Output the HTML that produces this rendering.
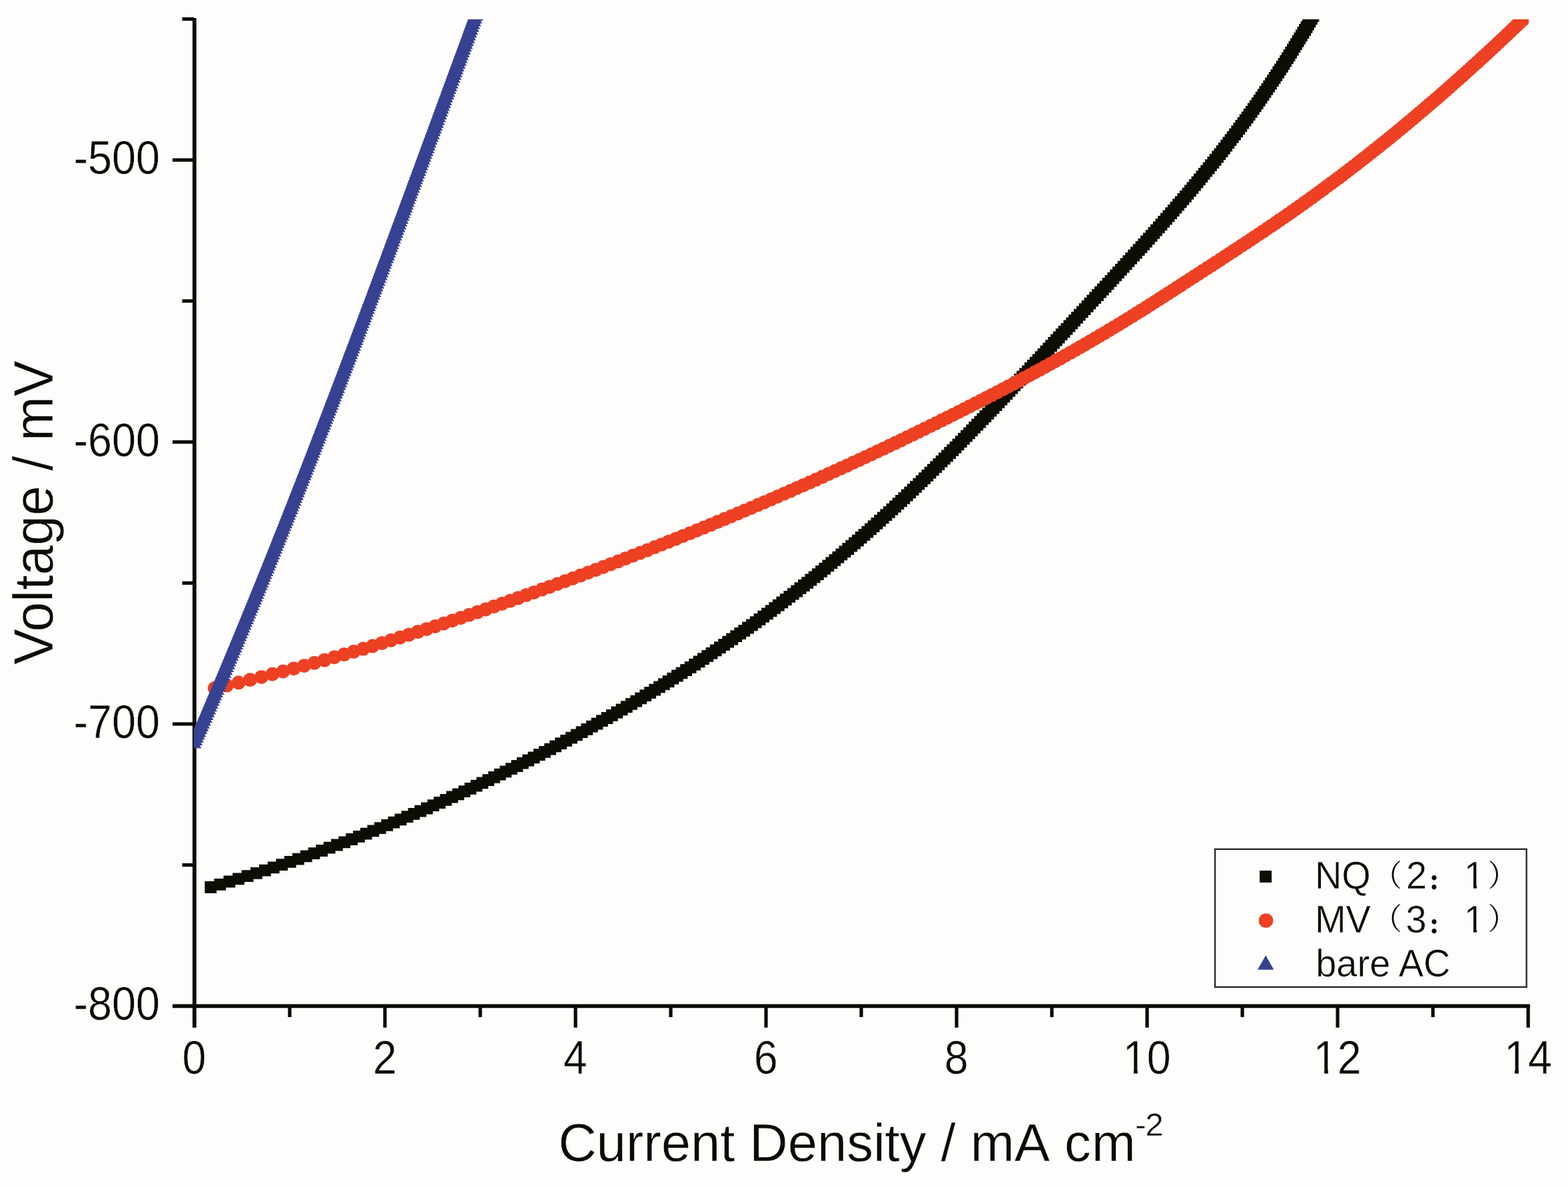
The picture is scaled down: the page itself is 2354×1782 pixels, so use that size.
<!DOCTYPE html>
<html><head><meta charset="utf-8"><title>Polarization curves</title>
<style>
html,body{margin:0;padding:0;background:#fefdfb;}
body{width:2354px;height:1782px;overflow:hidden;}
svg{display:block;filter:blur(0.45px);}
text{font-family:"Liberation Sans","Noto Sans CJK SC",sans-serif;fill:#0b0b05;stroke:#fefdfb;stroke-width:0.5px;}
</style></head><body>
<svg width="2354" height="1782" viewBox="0 0 2354 1782">
<rect width="2354" height="1782" fill="#fefdfb"/>
<defs><clipPath id="cp"><rect x="290.7" y="28.9" width="2004.3" height="1480"/></clipPath></defs>

<g stroke="#0b0b05" stroke-width="5.8" fill="none">
<path d="M291.9 27V1542.7"/>
<path d="M259 1510.3H2297"/>
</g>
<g stroke="#0b0b05" stroke-width="5.2" fill="none">
<path d="M259 240.2H291"/>
<path d="M259 663.6H291"/>
<path d="M259 1086.9H291"/>
<path d="M273.5 28.6H291"/>
<path d="M273.5 451.9H291"/>
<path d="M273.5 875.3H291"/>
<path d="M273.5 1298.6H291"/>
<path d="M434.9 1509V1527"/>
<path d="M577.9 1509V1542.7"/>
<path d="M721 1509V1527"/>
<path d="M864 1509V1542.7"/>
<path d="M1007 1509V1527"/>
<path d="M1150 1509V1542.7"/>
<path d="M1293 1509V1527"/>
<path d="M1436.1 1509V1542.7"/>
<path d="M1579.1 1509V1527"/>
<path d="M1722.1 1509V1542.7"/>
<path d="M1865.1 1509V1527"/>
<path d="M2008.1 1509V1542.7"/>
<path d="M2151.2 1509V1527"/>
<path d="M2294.2 1509V1542.7"/>
</g>
<g clip-path="url(#cp)">
<path d="M307.4 1323.1h17.8v17.8h-17.8zM321.4 1318.9h17.8v17.8h-17.8zM335.5 1314.6h17.8v17.8h-17.8zM349.2 1310.4h17.8v17.8h-17.8zM362.7 1306.2h17.8v17.8h-17.8zM376 1301.9h17.8v17.8h-17.8zM389 1297.7h17.8v17.8h-17.8zM401.8 1293.5h17.8v17.8h-17.8zM414.3 1289.2h17.8v17.8h-17.8zM426.7 1285h17.8v17.8h-17.8zM438.9 1280.8h17.8v17.8h-17.8zM450.8 1276.5h17.8v17.8h-17.8zM462.6 1272.3h17.8v17.8h-17.8zM474.2 1268.1h17.8v17.8h-17.8zM485.7 1263.8h17.8v17.8h-17.8zM497 1259.6h17.8v17.8h-17.8zM508.2 1255.4h17.8v17.8h-17.8zM519.2 1251.1h17.8v17.8h-17.8zM530 1246.9h17.8v17.8h-17.8zM540.8 1242.7h17.8v17.8h-17.8zM551.4 1238.4h17.8v17.8h-17.8zM561.8 1234.2h17.8v17.8h-17.8zM572.2 1230h17.8v17.8h-17.8zM582.4 1225.7h17.8v17.8h-17.8zM592.6 1221.5h17.8v17.8h-17.8zM602.6 1217.3h17.8v17.8h-17.8zM612.5 1213h17.8v17.8h-17.8zM622.3 1208.8h17.8v17.8h-17.8zM632 1204.6h17.8v17.8h-17.8zM641.6 1200.3h17.8v17.8h-17.8zM651.1 1196.1h17.8v17.8h-17.8zM660.5 1191.9h17.8v17.8h-17.8zM669.9 1187.6h17.8v17.8h-17.8zM679.1 1183.4h17.8v17.8h-17.8zM688.3 1179.2h17.8v17.8h-17.8zM697.4 1174.9h17.8v17.8h-17.8zM706.4 1170.7h17.8v17.8h-17.8zM715.3 1166.5h17.8v17.8h-17.8zM724.2 1162.2h17.8v17.8h-17.8zM733 1158h17.8v17.8h-17.8zM741.7 1153.8h17.8v17.8h-17.8zM750.3 1149.5h17.8v17.8h-17.8zM758.9 1145.3h17.8v17.8h-17.8zM767.4 1141.1h17.8v17.8h-17.8zM775.8 1136.8h17.8v17.8h-17.8zM784.2 1132.6h17.8v17.8h-17.8zM792.5 1128.4h17.8v17.8h-17.8zM800.8 1124.1h17.8v17.8h-17.8zM808.9 1119.9h17.8v17.8h-17.8zM817.1 1115.7h17.8v17.8h-17.8zM825.1 1111.4h17.8v17.8h-17.8zM833.1 1107.2h17.8v17.8h-17.8zM841.1 1103h17.8v17.8h-17.8zM849 1098.7h17.8v17.8h-17.8zM856.8 1094.5h17.8v17.8h-17.8zM864.6 1090.3h17.8v17.8h-17.8zM872.3 1086h17.8v17.8h-17.8zM879.9 1081.8h17.8v17.8h-17.8zM887.5 1077.6h17.8v17.8h-17.8zM895 1073.3h17.8v17.8h-17.8zM902.5 1069.1h17.8v17.8h-17.8zM909.9 1064.9h17.8v17.8h-17.8zM917.3 1060.6h17.8v17.8h-17.8zM924.6 1056.4h17.8v17.8h-17.8zM931.8 1052.2h17.8v17.8h-17.8zM939 1047.9h17.8v17.8h-17.8zM946.2 1043.7h17.8v17.8h-17.8zM953.2 1039.5h17.8v17.8h-17.8zM960.3 1035.2h17.8v17.8h-17.8zM967.2 1031h17.8v17.8h-17.8zM974.2 1026.8h17.8v17.8h-17.8zM981 1022.5h17.8v17.8h-17.8zM987.9 1018.3h17.8v17.8h-17.8zM994.6 1014.1h17.8v17.8h-17.8zM1001.3 1009.8h17.8v17.8h-17.8zM1008 1005.6h17.8v17.8h-17.8zM1014.6 1001.4h17.8v17.8h-17.8zM1021.2 997.1h17.8v17.8h-17.8zM1027.7 992.9h17.8v17.8h-17.8zM1034.2 988.7h17.8v17.8h-17.8zM1040.6 984.4h17.8v17.8h-17.8zM1047 980.2h17.8v17.8h-17.8zM1053.3 976h17.8v17.8h-17.8zM1059.6 971.7h17.8v17.8h-17.8zM1065.8 967.5h17.8v17.8h-17.8zM1072 963.3h17.8v17.8h-17.8zM1078.2 959h17.8v17.8h-17.8zM1084.3 954.8h17.8v17.8h-17.8zM1090.3 950.6h17.8v17.8h-17.8zM1096.3 946.3h17.8v17.8h-17.8zM1102.3 942.1h17.8v17.8h-17.8zM1108.3 937.9h17.8v17.8h-17.8zM1114.1 933.6h17.8v17.8h-17.8zM1120 929.4h17.8v17.8h-17.8zM1125.8 925.2h17.8v17.8h-17.8zM1131.6 920.9h17.8v17.8h-17.8zM1137.3 916.7h17.8v17.8h-17.8zM1143 912.5h17.8v17.8h-17.8zM1148.7 908.2h17.8v17.8h-17.8zM1154.3 904h17.8v17.8h-17.8zM1159.9 899.7h17.8v17.8h-17.8zM1165.4 895.5h17.8v17.8h-17.8zM1170.9 891.3h17.8v17.8h-17.8zM1176.4 887h17.8v17.8h-17.8zM1181.9 882.8h17.8v17.8h-17.8zM1187.3 878.6h17.8v17.8h-17.8zM1192.6 874.3h17.8v17.8h-17.8zM1198 870.1h17.8v17.8h-17.8zM1203.3 865.9h17.8v17.8h-17.8zM1208.5 861.6h17.8v17.8h-17.8zM1213.8 857.4h17.8v17.8h-17.8zM1219 853.2h17.8v17.8h-17.8zM1224.1 848.9h17.8v17.8h-17.8zM1229.3 844.7h17.8v17.8h-17.8zM1234.4 840.5h17.8v17.8h-17.8zM1239.5 836.2h17.8v17.8h-17.8zM1244.5 832h17.8v17.8h-17.8zM1249.5 827.8h17.8v17.8h-17.8zM1254.5 823.5h17.8v17.8h-17.8zM1259.5 819.3h17.8v17.8h-17.8zM1264.4 815.1h17.8v17.8h-17.8zM1269.3 810.8h17.8v17.8h-17.8zM1274.2 806.6h17.8v17.8h-17.8zM1279 802.4h17.8v17.8h-17.8zM1283.8 798.1h17.8v17.8h-17.8zM1288.6 793.9h17.8v17.8h-17.8zM1293.4 789.7h17.8v17.8h-17.8zM1298.1 785.4h17.8v17.8h-17.8zM1302.8 781.2h17.8v17.8h-17.8zM1307.5 777h17.8v17.8h-17.8zM1312.2 772.7h17.8v17.8h-17.8zM1316.8 768.5h17.8v17.8h-17.8zM1321.4 764.3h17.8v17.8h-17.8zM1326 760h17.8v17.8h-17.8zM1330.5 755.8h17.8v17.8h-17.8zM1335.1 751.6h17.8v17.8h-17.8zM1339.6 747.3h17.8v17.8h-17.8zM1344 743.1h17.8v17.8h-17.8zM1348.5 738.9h17.8v17.8h-17.8zM1352.9 734.6h17.8v17.8h-17.8zM1357.4 730.4h17.8v17.8h-17.8zM1361.8 726.2h17.8v17.8h-17.8zM1366.1 721.9h17.8v17.8h-17.8zM1370.5 717.7h17.8v17.8h-17.8zM1374.8 713.5h17.8v17.8h-17.8zM1379.1 709.2h17.8v17.8h-17.8zM1383.4 705h17.8v17.8h-17.8zM1387.7 700.8h17.8v17.8h-17.8zM1392 696.5h17.8v17.8h-17.8zM1396.3 692.3h17.8v17.8h-17.8zM1400.5 688.1h17.8v17.8h-17.8zM1404.7 683.8h17.8v17.8h-17.8zM1408.9 679.6h17.8v17.8h-17.8zM1413.1 675.4h17.8v17.8h-17.8zM1417.3 671.1h17.8v17.8h-17.8zM1421.5 666.9h17.8v17.8h-17.8zM1425.6 662.7h17.8v17.8h-17.8zM1429.7 658.4h17.8v17.8h-17.8zM1433.9 654.2h17.8v17.8h-17.8zM1438 650h17.8v17.8h-17.8zM1442.1 645.7h17.8v17.8h-17.8zM1446.2 641.5h17.8v17.8h-17.8zM1450.3 637.3h17.8v17.8h-17.8zM1454.3 633h17.8v17.8h-17.8zM1458.4 628.8h17.8v17.8h-17.8zM1462.5 624.6h17.8v17.8h-17.8zM1466.5 620.3h17.8v17.8h-17.8zM1470.5 616.1h17.8v17.8h-17.8zM1474.6 611.9h17.8v17.8h-17.8zM1478.6 607.6h17.8v17.8h-17.8zM1482.6 603.4h17.8v17.8h-17.8zM1486.6 599.2h17.8v17.8h-17.8zM1490.6 594.9h17.8v17.8h-17.8zM1494.6 590.7h17.8v17.8h-17.8zM1498.6 586.5h17.8v17.8h-17.8zM1502.5 582.2h17.8v17.8h-17.8zM1506.5 578h17.8v17.8h-17.8zM1510.4 573.8h17.8v17.8h-17.8zM1514.4 569.5h17.8v17.8h-17.8zM1518.3 565.3h17.8v17.8h-17.8zM1522.3 561.1h17.8v17.8h-17.8zM1526.2 556.8h17.8v17.8h-17.8zM1530.2 552.6h17.8v17.8h-17.8zM1534.1 548.4h17.8v17.8h-17.8zM1538 544.1h17.8v17.8h-17.8zM1541.9 539.9h17.8v17.8h-17.8zM1545.8 535.7h17.8v17.8h-17.8zM1549.8 531.4h17.8v17.8h-17.8zM1553.7 527.2h17.8v17.8h-17.8zM1557.6 523h17.8v17.8h-17.8zM1561.5 518.7h17.8v17.8h-17.8zM1565.4 514.5h17.8v17.8h-17.8zM1569.3 510.3h17.8v17.8h-17.8zM1573.2 506h17.8v17.8h-17.8zM1577.1 501.8h17.8v17.8h-17.8zM1580.9 497.6h17.8v17.8h-17.8zM1584.8 493.3h17.8v17.8h-17.8zM1588.7 489.1h17.8v17.8h-17.8zM1592.6 484.9h17.8v17.8h-17.8zM1596.5 480.6h17.8v17.8h-17.8zM1600.4 476.4h17.8v17.8h-17.8zM1604.2 472.2h17.8v17.8h-17.8zM1608.1 467.9h17.8v17.8h-17.8zM1612 463.7h17.8v17.8h-17.8zM1615.9 459.5h17.8v17.8h-17.8zM1619.8 455.2h17.8v17.8h-17.8zM1623.7 451h17.8v17.8h-17.8zM1627.5 446.8h17.8v17.8h-17.8zM1631.4 442.5h17.8v17.8h-17.8zM1635.3 438.3h17.8v17.8h-17.8zM1639.2 434.1h17.8v17.8h-17.8zM1643.1 429.8h17.8v17.8h-17.8zM1646.9 425.6h17.8v17.8h-17.8zM1650.8 421.4h17.8v17.8h-17.8zM1654.7 417.1h17.8v17.8h-17.8zM1658.6 412.9h17.8v17.8h-17.8zM1662.4 408.7h17.8v17.8h-17.8zM1666.3 404.4h17.8v17.8h-17.8zM1670.1 400.2h17.8v17.8h-17.8zM1674 396h17.8v17.8h-17.8zM1677.8 391.7h17.8v17.8h-17.8zM1681.7 387.5h17.8v17.8h-17.8zM1685.5 383.3h17.8v17.8h-17.8zM1689.3 379h17.8v17.8h-17.8zM1693.2 374.8h17.8v17.8h-17.8zM1697 370.6h17.8v17.8h-17.8zM1700.8 366.3h17.8v17.8h-17.8zM1704.6 362.1h17.8v17.8h-17.8zM1708.4 357.9h17.8v17.8h-17.8zM1712.1 353.6h17.8v17.8h-17.8zM1715.9 349.4h17.8v17.8h-17.8zM1719.7 345.2h17.8v17.8h-17.8zM1723.4 340.9h17.8v17.8h-17.8zM1727.1 336.7h17.8v17.8h-17.8zM1730.9 332.5h17.8v17.8h-17.8zM1734.6 328.2h17.8v17.8h-17.8zM1738.3 324h17.8v17.8h-17.8zM1742 319.8h17.8v17.8h-17.8zM1745.6 315.5h17.8v17.8h-17.8zM1749.3 311.3h17.8v17.8h-17.8zM1752.9 307.1h17.8v17.8h-17.8zM1756.6 302.8h17.8v17.8h-17.8zM1760.2 298.6h17.8v17.8h-17.8zM1763.8 294.4h17.8v17.8h-17.8zM1767.4 290.1h17.8v17.8h-17.8zM1771 285.9h17.8v17.8h-17.8zM1774.5 281.7h17.8v17.8h-17.8zM1778.1 277.4h17.8v17.8h-17.8zM1781.6 273.2h17.8v17.8h-17.8zM1785.1 269h17.8v17.8h-17.8zM1788.6 264.7h17.8v17.8h-17.8zM1792 260.5h17.8v17.8h-17.8zM1795.5 256.3h17.8v17.8h-17.8zM1798.9 252h17.8v17.8h-17.8zM1802.3 247.8h17.8v17.8h-17.8zM1805.8 243.6h17.8v17.8h-17.8zM1809.1 239.3h17.8v17.8h-17.8zM1812.5 235.1h17.8v17.8h-17.8zM1815.8 230.9h17.8v17.8h-17.8zM1819.2 226.6h17.8v17.8h-17.8zM1822.5 222.4h17.8v17.8h-17.8zM1825.8 218.2h17.8v17.8h-17.8zM1829 213.9h17.8v17.8h-17.8zM1832.3 209.7h17.8v17.8h-17.8zM1835.5 205.5h17.8v17.8h-17.8zM1838.7 201.2h17.8v17.8h-17.8zM1841.9 197h17.8v17.8h-17.8zM1845.1 192.8h17.8v17.8h-17.8zM1848.3 188.5h17.8v17.8h-17.8zM1851.4 184.3h17.8v17.8h-17.8zM1854.5 180.1h17.8v17.8h-17.8zM1857.6 175.8h17.8v17.8h-17.8zM1860.7 171.6h17.8v17.8h-17.8zM1863.8 167.4h17.8v17.8h-17.8zM1866.8 163.1h17.8v17.8h-17.8zM1869.9 158.9h17.8v17.8h-17.8zM1872.9 154.7h17.8v17.8h-17.8zM1875.9 150.4h17.8v17.8h-17.8zM1878.8 146.2h17.8v17.8h-17.8zM1881.8 142h17.8v17.8h-17.8zM1884.7 137.7h17.8v17.8h-17.8zM1887.6 133.5h17.8v17.8h-17.8zM1890.5 129.3h17.8v17.8h-17.8zM1893.4 125h17.8v17.8h-17.8zM1896.3 120.8h17.8v17.8h-17.8zM1899.1 116.6h17.8v17.8h-17.8zM1902 112.3h17.8v17.8h-17.8zM1904.8 108.1h17.8v17.8h-17.8zM1907.6 103.9h17.8v17.8h-17.8zM1910.4 99.6h17.8v17.8h-17.8zM1913.1 95.4h17.8v17.8h-17.8zM1915.9 91.2h17.8v17.8h-17.8zM1918.6 86.9h17.8v17.8h-17.8zM1921.3 82.7h17.8v17.8h-17.8zM1924 78.5h17.8v17.8h-17.8zM1926.7 74.2h17.8v17.8h-17.8zM1929.3 70h17.8v17.8h-17.8zM1932 65.8h17.8v17.8h-17.8zM1934.6 61.5h17.8v17.8h-17.8zM1937.2 57.3h17.8v17.8h-17.8zM1939.8 53h17.8v17.8h-17.8zM1942.4 48.8h17.8v17.8h-17.8zM1945 44.6h17.8v17.8h-17.8zM1947.5 40.3h17.8v17.8h-17.8zM1950.1 36.1h17.8v17.8h-17.8zM1952.6 31.9h17.8v17.8h-17.8zM1955.1 27.6h17.8v17.8h-17.8zM1957.6 23.4h17.8v17.8h-17.8zM1960.1 19.2h17.8v17.8h-17.8zM1962.6 14.9h17.8v17.8h-17.8zM1965 10.7h17.8v17.8h-17.8zM1967.4 6.5h17.8v17.8h-17.8zM1969.9 2.2h17.8v17.8h-17.8z" fill="#0d0d04"/>
<g fill="#ee4023"><circle cx="322.2" cy="1033.3" r="10.5"/><circle cx="340.4" cy="1029.1" r="10.5"/><circle cx="358.2" cy="1024.8" r="10.5"/><circle cx="375.5" cy="1020.6" r="10.5"/><circle cx="392.4" cy="1016.4" r="10.5"/><circle cx="408.9" cy="1012.1" r="10.5"/><circle cx="425.1" cy="1007.9" r="10.5"/><circle cx="441" cy="1003.7" r="10.5"/><circle cx="456.6" cy="999.4" r="10.5"/><circle cx="472" cy="995.2" r="10.5"/><circle cx="487.1" cy="991" r="10.5"/><circle cx="501.9" cy="986.7" r="10.5"/><circle cx="516.6" cy="982.5" r="10.5"/><circle cx="531" cy="978.3" r="10.5"/><circle cx="545.3" cy="974" r="10.5"/><circle cx="559.3" cy="969.8" r="10.5"/><circle cx="573.2" cy="965.6" r="10.5"/><circle cx="586.9" cy="961.3" r="10.5"/><circle cx="600.5" cy="957.1" r="10.5"/><circle cx="613.9" cy="952.9" r="10.5"/><circle cx="627.2" cy="948.6" r="10.5"/><circle cx="640.4" cy="944.4" r="10.5"/><circle cx="653.4" cy="940.2" r="10.5"/><circle cx="666.3" cy="935.9" r="10.5"/><circle cx="679.1" cy="931.7" r="10.5"/><circle cx="691.8" cy="927.5" r="10.5"/><circle cx="704.3" cy="923.2" r="10.5"/><circle cx="716.8" cy="919" r="10.5"/><circle cx="729.2" cy="914.8" r="10.5"/><circle cx="741.5" cy="910.5" r="10.5"/><circle cx="753.7" cy="906.3" r="10.5"/><circle cx="765.8" cy="902.1" r="10.5"/><circle cx="777.8" cy="897.8" r="10.5"/><circle cx="789.8" cy="893.6" r="10.5"/><circle cx="801.7" cy="889.4" r="10.5"/><circle cx="813.5" cy="885.1" r="10.5"/><circle cx="825.2" cy="880.9" r="10.5"/><circle cx="836.9" cy="876.7" r="10.5"/><circle cx="848.5" cy="872.4" r="10.5"/><circle cx="860.1" cy="868.2" r="10.5"/><circle cx="871.5" cy="864" r="10.5"/><circle cx="882.9" cy="859.7" r="10.5"/><circle cx="894.3" cy="855.5" r="10.5"/><circle cx="905.5" cy="851.3" r="10.5"/><circle cx="916.7" cy="847" r="10.5"/><circle cx="927.9" cy="842.8" r="10.5"/><circle cx="938.9" cy="838.6" r="10.5"/><circle cx="949.9" cy="834.3" r="10.5"/><circle cx="960.9" cy="830.1" r="10.5"/><circle cx="971.8" cy="825.9" r="10.5"/><circle cx="982.6" cy="821.6" r="10.5"/><circle cx="993.3" cy="817.4" r="10.5"/><circle cx="1004" cy="813.2" r="10.5"/><circle cx="1014.7" cy="808.9" r="10.5"/><circle cx="1025.3" cy="804.7" r="10.5"/><circle cx="1035.8" cy="800.5" r="10.5"/><circle cx="1046.2" cy="796.2" r="10.5"/><circle cx="1056.6" cy="792" r="10.5"/><circle cx="1067" cy="787.8" r="10.5"/><circle cx="1077.3" cy="783.5" r="10.5"/><circle cx="1087.5" cy="779.3" r="10.5"/><circle cx="1097.7" cy="775.1" r="10.5"/><circle cx="1107.8" cy="770.8" r="10.5"/><circle cx="1117.8" cy="766.6" r="10.5"/><circle cx="1127.8" cy="762.4" r="10.5"/><circle cx="1137.8" cy="758.1" r="10.5"/><circle cx="1147.7" cy="753.9" r="10.5"/><circle cx="1157.6" cy="749.7" r="10.5"/><circle cx="1167.3" cy="745.4" r="10.5"/><circle cx="1177.1" cy="741.2" r="10.5"/><circle cx="1186.8" cy="737" r="10.5"/><circle cx="1196.4" cy="732.7" r="10.5"/><circle cx="1206" cy="728.5" r="10.5"/><circle cx="1215.6" cy="724.3" r="10.5"/><circle cx="1225.1" cy="720" r="10.5"/><circle cx="1234.5" cy="715.8" r="10.5"/><circle cx="1243.9" cy="711.6" r="10.5"/><circle cx="1253.2" cy="707.3" r="10.5"/><circle cx="1262.5" cy="703.1" r="10.5"/><circle cx="1271.8" cy="698.9" r="10.5"/><circle cx="1281" cy="694.6" r="10.5"/><circle cx="1290.2" cy="690.4" r="10.5"/><circle cx="1299.3" cy="686.2" r="10.5"/><circle cx="1308.4" cy="681.9" r="10.5"/><circle cx="1317.4" cy="677.7" r="10.5"/><circle cx="1326.4" cy="673.5" r="10.5"/><circle cx="1335.3" cy="669.2" r="10.5"/><circle cx="1344.2" cy="665" r="10.5"/><circle cx="1353" cy="660.8" r="10.5"/><circle cx="1361.8" cy="656.5" r="10.5"/><circle cx="1370.6" cy="652.3" r="10.5"/><circle cx="1379.3" cy="648.1" r="10.5"/><circle cx="1388" cy="643.8" r="10.5"/><circle cx="1396.7" cy="639.6" r="10.5"/><circle cx="1405.3" cy="635.4" r="10.5"/><circle cx="1413.8" cy="631.1" r="10.5"/><circle cx="1422.3" cy="626.9" r="10.5"/><circle cx="1430.8" cy="622.7" r="10.5"/><circle cx="1439.3" cy="618.4" r="10.5"/><circle cx="1447.7" cy="614.2" r="10.5"/><circle cx="1456" cy="609.9" r="10.5"/><circle cx="1464.4" cy="605.7" r="10.5"/><circle cx="1472.7" cy="601.5" r="10.5"/><circle cx="1480.9" cy="597.2" r="10.5"/><circle cx="1489.1" cy="593" r="10.5"/><circle cx="1497.3" cy="588.8" r="10.5"/><circle cx="1505.4" cy="584.5" r="10.5"/><circle cx="1513.5" cy="580.3" r="10.5"/><circle cx="1521.6" cy="576.1" r="10.5"/><circle cx="1529.6" cy="571.8" r="10.5"/><circle cx="1537.5" cy="567.6" r="10.5"/><circle cx="1545.4" cy="563.4" r="10.5"/><circle cx="1553.3" cy="559.1" r="10.5"/><circle cx="1561.1" cy="554.9" r="10.5"/><circle cx="1568.9" cy="550.7" r="10.5"/><circle cx="1576.6" cy="546.4" r="10.5"/><circle cx="1584.3" cy="542.2" r="10.5"/><circle cx="1591.9" cy="538" r="10.5"/><circle cx="1599.5" cy="533.7" r="10.5"/><circle cx="1607" cy="529.5" r="10.5"/><circle cx="1614.5" cy="525.3" r="10.5"/><circle cx="1621.9" cy="521" r="10.5"/><circle cx="1629.2" cy="516.8" r="10.5"/><circle cx="1636.6" cy="512.6" r="10.5"/><circle cx="1643.8" cy="508.3" r="10.5"/><circle cx="1651" cy="504.1" r="10.5"/><circle cx="1658.2" cy="499.9" r="10.5"/><circle cx="1665.3" cy="495.6" r="10.5"/><circle cx="1672.3" cy="491.4" r="10.5"/><circle cx="1679.3" cy="487.2" r="10.5"/><circle cx="1686.3" cy="482.9" r="10.5"/><circle cx="1693.2" cy="478.7" r="10.5"/><circle cx="1700" cy="474.5" r="10.5"/><circle cx="1706.8" cy="470.2" r="10.5"/><circle cx="1713.6" cy="466" r="10.5"/><circle cx="1720.3" cy="461.8" r="10.5"/><circle cx="1727" cy="457.5" r="10.5"/><circle cx="1733.6" cy="453.3" r="10.5"/><circle cx="1740.3" cy="449.1" r="10.5"/><circle cx="1746.9" cy="444.8" r="10.5"/><circle cx="1753.5" cy="440.6" r="10.5"/><circle cx="1760.1" cy="436.4" r="10.5"/><circle cx="1766.6" cy="432.1" r="10.5"/><circle cx="1773.2" cy="427.9" r="10.5"/><circle cx="1779.7" cy="423.7" r="10.5"/><circle cx="1786.3" cy="419.4" r="10.5"/><circle cx="1792.8" cy="415.2" r="10.5"/><circle cx="1799.4" cy="411" r="10.5"/><circle cx="1805.9" cy="406.7" r="10.5"/><circle cx="1812.4" cy="402.5" r="10.5"/><circle cx="1819" cy="398.3" r="10.5"/><circle cx="1825.5" cy="394" r="10.5"/><circle cx="1832" cy="389.8" r="10.5"/><circle cx="1838.5" cy="385.6" r="10.5"/><circle cx="1845" cy="381.3" r="10.5"/><circle cx="1851.5" cy="377.1" r="10.5"/><circle cx="1857.9" cy="372.9" r="10.5"/><circle cx="1864.4" cy="368.6" r="10.5"/><circle cx="1870.8" cy="364.4" r="10.5"/><circle cx="1877.2" cy="360.2" r="10.5"/><circle cx="1883.5" cy="355.9" r="10.5"/><circle cx="1889.9" cy="351.7" r="10.5"/><circle cx="1896.2" cy="347.5" r="10.5"/><circle cx="1902.5" cy="343.2" r="10.5"/><circle cx="1908.7" cy="339" r="10.5"/><circle cx="1914.9" cy="334.8" r="10.5"/><circle cx="1921.1" cy="330.5" r="10.5"/><circle cx="1927.3" cy="326.3" r="10.5"/><circle cx="1933.4" cy="322.1" r="10.5"/><circle cx="1939.5" cy="317.8" r="10.5"/><circle cx="1945.5" cy="313.6" r="10.5"/><circle cx="1951.5" cy="309.4" r="10.5"/><circle cx="1957.5" cy="305.1" r="10.5"/><circle cx="1963.4" cy="300.9" r="10.5"/><circle cx="1969.3" cy="296.7" r="10.5"/><circle cx="1975.1" cy="292.4" r="10.5"/><circle cx="1980.9" cy="288.2" r="10.5"/><circle cx="1986.7" cy="284" r="10.5"/><circle cx="1992.4" cy="279.7" r="10.5"/><circle cx="1998.1" cy="275.5" r="10.5"/><circle cx="2003.8" cy="271.3" r="10.5"/><circle cx="2009.5" cy="267" r="10.5"/><circle cx="2015.1" cy="262.8" r="10.5"/><circle cx="2020.6" cy="258.6" r="10.5"/><circle cx="2026.2" cy="254.3" r="10.5"/><circle cx="2031.7" cy="250.1" r="10.5"/><circle cx="2037.2" cy="245.9" r="10.5"/><circle cx="2042.6" cy="241.6" r="10.5"/><circle cx="2048" cy="237.4" r="10.5"/><circle cx="2053.4" cy="233.2" r="10.5"/><circle cx="2058.8" cy="228.9" r="10.5"/><circle cx="2064.1" cy="224.7" r="10.5"/><circle cx="2069.4" cy="220.5" r="10.5"/><circle cx="2074.7" cy="216.2" r="10.5"/><circle cx="2080" cy="212" r="10.5"/><circle cx="2085.2" cy="207.8" r="10.5"/><circle cx="2090.4" cy="203.5" r="10.5"/><circle cx="2095.6" cy="199.3" r="10.5"/><circle cx="2100.7" cy="195.1" r="10.5"/><circle cx="2105.9" cy="190.8" r="10.5"/><circle cx="2111" cy="186.6" r="10.5"/><circle cx="2116" cy="182.4" r="10.5"/><circle cx="2121.1" cy="178.1" r="10.5"/><circle cx="2126.1" cy="173.9" r="10.5"/><circle cx="2131.1" cy="169.7" r="10.5"/><circle cx="2136.1" cy="165.4" r="10.5"/><circle cx="2141.1" cy="161.2" r="10.5"/><circle cx="2146" cy="157" r="10.5"/><circle cx="2151" cy="152.7" r="10.5"/><circle cx="2155.9" cy="148.5" r="10.5"/><circle cx="2160.8" cy="144.3" r="10.5"/><circle cx="2165.6" cy="140" r="10.5"/><circle cx="2170.5" cy="135.8" r="10.5"/><circle cx="2175.3" cy="131.6" r="10.5"/><circle cx="2180.1" cy="127.3" r="10.5"/><circle cx="2184.9" cy="123.1" r="10.5"/><circle cx="2189.6" cy="118.9" r="10.5"/><circle cx="2194.4" cy="114.6" r="10.5"/><circle cx="2199.1" cy="110.4" r="10.5"/><circle cx="2203.8" cy="106.2" r="10.5"/><circle cx="2208.5" cy="101.9" r="10.5"/><circle cx="2213.2" cy="97.7" r="10.5"/><circle cx="2217.8" cy="93.5" r="10.5"/><circle cx="2222.5" cy="89.2" r="10.5"/><circle cx="2227.1" cy="85" r="10.5"/><circle cx="2231.7" cy="80.8" r="10.5"/><circle cx="2236.3" cy="76.5" r="10.5"/><circle cx="2240.8" cy="72.3" r="10.5"/><circle cx="2245.4" cy="68.1" r="10.5"/><circle cx="2249.9" cy="63.8" r="10.5"/><circle cx="2254.4" cy="59.6" r="10.5"/><circle cx="2258.9" cy="55.4" r="10.5"/><circle cx="2263.4" cy="51.1" r="10.5"/><circle cx="2267.9" cy="46.9" r="10.5"/><circle cx="2272.3" cy="42.7" r="10.5"/><circle cx="2276.8" cy="38.4" r="10.5"/><circle cx="2281.2" cy="34.2" r="10.5"/><circle cx="2285.6" cy="30" r="10.5"/><circle cx="2290" cy="25.7" r="10.5"/><circle cx="2294.4" cy="21.5" r="10.5"/><circle cx="2298.8" cy="17.3" r="10.5"/><circle cx="2303.1" cy="13" r="10.5"/><circle cx="2307.4" cy="8.8" r="10.5"/></g>
<path d="M278.3 1123.3h24l-12 -21.5zM280.1 1119.1h24l-12 -21.5zM281.9 1114.8h24l-12 -21.5zM283.8 1110.6h24l-12 -21.5zM285.6 1106.4h24l-12 -21.5zM287.4 1102.1h24l-12 -21.5zM289.3 1097.9h24l-12 -21.5zM291.1 1093.7h24l-12 -21.5zM292.9 1089.4h24l-12 -21.5zM294.7 1085.2h24l-12 -21.5zM296.5 1081h24l-12 -21.5zM298.4 1076.7h24l-12 -21.5zM300.2 1072.5h24l-12 -21.5zM302 1068.3h24l-12 -21.5zM303.8 1064h24l-12 -21.5zM305.6 1059.8h24l-12 -21.5zM307.4 1055.6h24l-12 -21.5zM309.2 1051.3h24l-12 -21.5zM311 1047.1h24l-12 -21.5zM312.8 1042.9h24l-12 -21.5zM314.6 1038.6h24l-12 -21.5zM316.4 1034.4h24l-12 -21.5zM318.2 1030.2h24l-12 -21.5zM320 1025.9h24l-12 -21.5zM321.7 1021.7h24l-12 -21.5zM323.5 1017.5h24l-12 -21.5zM325.3 1013.2h24l-12 -21.5zM327.1 1009h24l-12 -21.5zM328.9 1004.8h24l-12 -21.5zM330.6 1000.5h24l-12 -21.5zM332.4 996.3h24l-12 -21.5zM334.2 992.1h24l-12 -21.5zM335.9 987.8h24l-12 -21.5zM337.7 983.6h24l-12 -21.5zM339.5 979.4h24l-12 -21.5zM341.2 975.1h24l-12 -21.5zM343 970.9h24l-12 -21.5zM344.7 966.7h24l-12 -21.5zM346.5 962.4h24l-12 -21.5zM348.2 958.2h24l-12 -21.5zM350 954h24l-12 -21.5zM351.7 949.7h24l-12 -21.5zM353.5 945.5h24l-12 -21.5zM355.2 941.3h24l-12 -21.5zM357 937h24l-12 -21.5zM358.7 932.8h24l-12 -21.5zM360.5 928.6h24l-12 -21.5zM362.2 924.3h24l-12 -21.5zM363.9 920.1h24l-12 -21.5zM365.7 915.9h24l-12 -21.5zM367.4 911.6h24l-12 -21.5zM369.1 907.4h24l-12 -21.5zM370.8 903.2h24l-12 -21.5zM372.6 898.9h24l-12 -21.5zM374.3 894.7h24l-12 -21.5zM376 890.5h24l-12 -21.5zM377.7 886.2h24l-12 -21.5zM379.4 882h24l-12 -21.5zM381.2 877.8h24l-12 -21.5zM382.9 873.5h24l-12 -21.5zM384.6 869.3h24l-12 -21.5zM386.3 865.1h24l-12 -21.5zM388 860.8h24l-12 -21.5zM389.7 856.6h24l-12 -21.5zM391.4 852.4h24l-12 -21.5zM393.1 848.1h24l-12 -21.5zM394.8 843.9h24l-12 -21.5zM396.5 839.7h24l-12 -21.5zM398.2 835.4h24l-12 -21.5zM399.9 831.2h24l-12 -21.5zM401.6 827h24l-12 -21.5zM403.3 822.7h24l-12 -21.5zM405 818.5h24l-12 -21.5zM406.7 814.3h24l-12 -21.5zM408.3 810h24l-12 -21.5zM410 805.8h24l-12 -21.5zM411.7 801.6h24l-12 -21.5zM413.4 797.3h24l-12 -21.5zM415.1 793.1h24l-12 -21.5zM416.8 788.9h24l-12 -21.5zM418.4 784.6h24l-12 -21.5zM420.1 780.4h24l-12 -21.5zM421.8 776.2h24l-12 -21.5zM423.5 771.9h24l-12 -21.5zM425.1 767.7h24l-12 -21.5zM426.8 763.5h24l-12 -21.5zM428.5 759.2h24l-12 -21.5zM430.1 755h24l-12 -21.5zM431.8 750.8h24l-12 -21.5zM433.5 746.5h24l-12 -21.5zM435.1 742.3h24l-12 -21.5zM436.8 738.1h24l-12 -21.5zM438.4 733.8h24l-12 -21.5zM440.1 729.6h24l-12 -21.5zM441.7 725.4h24l-12 -21.5zM443.4 721.1h24l-12 -21.5zM445 716.9h24l-12 -21.5zM446.7 712.7h24l-12 -21.5zM448.3 708.4h24l-12 -21.5zM450 704.2h24l-12 -21.5zM451.6 699.9h24l-12 -21.5zM453.3 695.7h24l-12 -21.5zM454.9 691.5h24l-12 -21.5zM456.6 687.2h24l-12 -21.5zM458.2 683h24l-12 -21.5zM459.9 678.8h24l-12 -21.5zM461.5 674.5h24l-12 -21.5zM463.1 670.3h24l-12 -21.5zM464.8 666.1h24l-12 -21.5zM466.4 661.8h24l-12 -21.5zM468 657.6h24l-12 -21.5zM469.7 653.4h24l-12 -21.5zM471.3 649.1h24l-12 -21.5zM472.9 644.9h24l-12 -21.5zM474.5 640.7h24l-12 -21.5zM476.2 636.4h24l-12 -21.5zM477.8 632.2h24l-12 -21.5zM479.4 628h24l-12 -21.5zM481 623.7h24l-12 -21.5zM482.7 619.5h24l-12 -21.5zM484.3 615.3h24l-12 -21.5zM485.9 611h24l-12 -21.5zM487.5 606.8h24l-12 -21.5zM489.1 602.6h24l-12 -21.5zM490.8 598.3h24l-12 -21.5zM492.4 594.1h24l-12 -21.5zM494 589.9h24l-12 -21.5zM495.6 585.6h24l-12 -21.5zM497.2 581.4h24l-12 -21.5zM498.8 577.2h24l-12 -21.5zM500.4 572.9h24l-12 -21.5zM502 568.7h24l-12 -21.5zM503.7 564.5h24l-12 -21.5zM505.3 560.2h24l-12 -21.5zM506.9 556h24l-12 -21.5zM508.5 551.8h24l-12 -21.5zM510.1 547.5h24l-12 -21.5zM511.7 543.3h24l-12 -21.5zM513.3 539.1h24l-12 -21.5zM514.9 534.8h24l-12 -21.5zM516.5 530.6h24l-12 -21.5zM518.1 526.4h24l-12 -21.5zM519.7 522.1h24l-12 -21.5zM521.3 517.9h24l-12 -21.5zM522.9 513.7h24l-12 -21.5zM524.5 509.4h24l-12 -21.5zM526 505.2h24l-12 -21.5zM527.6 501h24l-12 -21.5zM529.2 496.7h24l-12 -21.5zM530.8 492.5h24l-12 -21.5zM532.4 488.3h24l-12 -21.5zM534 484h24l-12 -21.5zM535.6 479.8h24l-12 -21.5zM537.2 475.6h24l-12 -21.5zM538.8 471.3h24l-12 -21.5zM540.4 467.1h24l-12 -21.5zM541.9 462.9h24l-12 -21.5zM543.5 458.6h24l-12 -21.5zM545.1 454.4h24l-12 -21.5zM546.7 450.2h24l-12 -21.5zM548.3 445.9h24l-12 -21.5zM549.9 441.7h24l-12 -21.5zM551.4 437.5h24l-12 -21.5zM553 433.2h24l-12 -21.5zM554.6 429h24l-12 -21.5zM556.2 424.8h24l-12 -21.5zM557.8 420.5h24l-12 -21.5zM559.3 416.3h24l-12 -21.5zM560.9 412.1h24l-12 -21.5zM562.5 407.8h24l-12 -21.5zM564.1 403.6h24l-12 -21.5zM565.6 399.4h24l-12 -21.5zM567.2 395.1h24l-12 -21.5zM568.8 390.9h24l-12 -21.5zM570.4 386.7h24l-12 -21.5zM571.9 382.4h24l-12 -21.5zM573.5 378.2h24l-12 -21.5zM575.1 374h24l-12 -21.5zM576.6 369.7h24l-12 -21.5zM578.2 365.5h24l-12 -21.5zM579.8 361.3h24l-12 -21.5zM581.4 357h24l-12 -21.5zM582.9 352.8h24l-12 -21.5zM584.5 348.6h24l-12 -21.5zM586.1 344.3h24l-12 -21.5zM587.6 340.1h24l-12 -21.5zM589.2 335.9h24l-12 -21.5zM590.8 331.6h24l-12 -21.5zM592.3 327.4h24l-12 -21.5zM593.9 323.2h24l-12 -21.5zM595.5 318.9h24l-12 -21.5zM597 314.7h24l-12 -21.5zM598.6 310.5h24l-12 -21.5zM600.1 306.2h24l-12 -21.5zM601.7 302h24l-12 -21.5zM603.3 297.8h24l-12 -21.5zM604.8 293.5h24l-12 -21.5zM606.4 289.3h24l-12 -21.5zM608 285.1h24l-12 -21.5zM609.5 280.8h24l-12 -21.5zM611.1 276.6h24l-12 -21.5zM612.6 272.4h24l-12 -21.5zM614.2 268.1h24l-12 -21.5zM615.8 263.9h24l-12 -21.5zM617.3 259.7h24l-12 -21.5zM618.9 255.4h24l-12 -21.5zM620.5 251.2h24l-12 -21.5zM622 247h24l-12 -21.5zM623.6 242.7h24l-12 -21.5zM625.1 238.5h24l-12 -21.5zM626.7 234.3h24l-12 -21.5zM628.3 230h24l-12 -21.5zM629.8 225.8h24l-12 -21.5zM631.4 221.6h24l-12 -21.5zM632.9 217.3h24l-12 -21.5zM634.5 213.1h24l-12 -21.5zM636 208.9h24l-12 -21.5zM637.6 204.6h24l-12 -21.5zM639.2 200.4h24l-12 -21.5zM640.7 196.2h24l-12 -21.5zM642.3 191.9h24l-12 -21.5zM643.8 187.7h24l-12 -21.5zM645.4 183.5h24l-12 -21.5zM647 179.2h24l-12 -21.5zM648.5 175h24l-12 -21.5zM650.1 170.8h24l-12 -21.5zM651.6 166.5h24l-12 -21.5zM653.2 162.3h24l-12 -21.5zM654.7 158.1h24l-12 -21.5zM656.3 153.8h24l-12 -21.5zM657.9 149.6h24l-12 -21.5zM659.4 145.4h24l-12 -21.5zM661 141.1h24l-12 -21.5zM662.5 136.9h24l-12 -21.5zM664.1 132.7h24l-12 -21.5zM665.6 128.4h24l-12 -21.5zM667.2 124.2h24l-12 -21.5zM668.8 120h24l-12 -21.5zM670.3 115.7h24l-12 -21.5zM671.9 111.5h24l-12 -21.5zM673.4 107.3h24l-12 -21.5zM675 103h24l-12 -21.5zM676.6 98.8h24l-12 -21.5zM678.1 94.6h24l-12 -21.5zM679.7 90.3h24l-12 -21.5zM681.2 86.1h24l-12 -21.5zM682.8 81.9h24l-12 -21.5zM684.4 77.6h24l-12 -21.5zM685.9 73.4h24l-12 -21.5zM687.5 69.2h24l-12 -21.5zM689 64.9h24l-12 -21.5zM690.6 60.7h24l-12 -21.5zM692.2 56.5h24l-12 -21.5zM693.7 52.2h24l-12 -21.5zM695.3 48h24l-12 -21.5zM696.8 43.8h24l-12 -21.5zM698.4 39.5h24l-12 -21.5zM700 35.3h24l-12 -21.5zM701.5 31.1h24l-12 -21.5zM703.1 26.8h24l-12 -21.5zM704.7 22.6h24l-12 -21.5zM706.2 18.4h24l-12 -21.5zM707.8 14.1h24l-12 -21.5zM709.4 9.9h24l-12 -21.5z" fill="#364291"/>
</g>
<text font-size="70" text-anchor="end" transform="translate(240 261.25) scale(0.925 1)">-500</text>
<text font-size="70" text-anchor="end" transform="translate(240 684.6) scale(0.925 1)">-600</text>
<text font-size="70" text-anchor="end" transform="translate(240 1107.95) scale(0.925 1)">-700</text>
<text font-size="70" text-anchor="end" transform="translate(240 1531.3) scale(0.925 1)">-800</text>
<text font-size="70" text-anchor="middle" transform="translate(291.6 1612.0) scale(0.925 1)">0</text>
<text font-size="70" text-anchor="middle" transform="translate(577.64 1612.0) scale(0.925 1)">2</text>
<text font-size="70" text-anchor="middle" transform="translate(863.68 1612.0) scale(0.925 1)">4</text>
<text font-size="70" text-anchor="middle" transform="translate(1149.72 1612.0) scale(0.925 1)">6</text>
<text font-size="70" text-anchor="middle" transform="translate(1435.76 1612.0) scale(0.925 1)">8</text>
<text font-size="70" text-anchor="middle" transform="translate(1721.8 1612.0) scale(0.925 1)">10</text>
<rect x="1689.67" y="1605.44" width="12.4" height="7.75" fill="#fefdfb"/><rect x="1707.87" y="1605.44" width="11.59" height="7.75" fill="#fefdfb"/>
<text font-size="70" text-anchor="middle" transform="translate(2007.84 1612.0) scale(0.925 1)">12</text>
<rect x="1975.71" y="1605.44" width="12.4" height="7.75" fill="#fefdfb"/><rect x="1993.91" y="1605.44" width="11.59" height="7.75" fill="#fefdfb"/>
<text font-size="70" text-anchor="middle" transform="translate(2293.88 1612.0) scale(0.925 1)">14</text>
<rect x="2261.75" y="1605.44" width="12.4" height="7.75" fill="#fefdfb"/><rect x="2279.95" y="1605.44" width="11.59" height="7.75" fill="#fefdfb"/>
<text font-size="79.5" x="838.2" y="1742.8">Current Density / mA <tspan dx="4.4">c</tspan><tspan dx="1">m</tspan><tspan font-size="49" x="1704.3 1719.6" y="1705.3">-2</tspan></text>
<text font-size="80.5" transform="translate(78.9 997.7) rotate(-90) scale(1 1.03)">Voltage / mV</text>
<rect x="1824.1" y="1274.8" width="467.6" height="207" fill="#fefdfb" stroke="#2b2b28" stroke-width="2.4"/>
<rect x="1891.1" y="1307" width="18" height="17.9" fill="#0d0d04"/>
<circle cx="1900.5" cy="1382" r="10.8" fill="#ee4023"/>
<path d="M1900.2 1434.3L1912.4 1455.7H1888Z" fill="#364291"/>
<text font-size="56" transform="translate(0 1334.2) scale(1 1.04) translate(0 -1334.2)"><tspan x="1973.9" y="1334.2">NQ</tspan><tspan x="2061.3" y="1330.7" font-size="43.5" font-family="&quot;Noto Serif CJK SC&quot;,&quot;Noto Sans CJK SC&quot;,serif" stroke="none">（</tspan><tspan x="2111" y="1334.2">2</tspan><tspan x="2142.95" y="1335.8" font-size="35" font-family="&quot;Noto Serif CJK SC&quot;,&quot;Noto Sans CJK SC&quot;,serif" stroke="none" font-weight="900">：</tspan><tspan x="2197.86" y="1334.2">1</tspan><tspan x="2233.7" y="1330.7" font-size="43.5" font-family="&quot;Noto Serif CJK SC&quot;,&quot;Noto Sans CJK SC&quot;,serif" stroke="none">）</tspan></text>
<rect x="2201.22" y="1328.72" width="10.72" height="6.68" fill="#fefdfb"/><rect x="2216.96" y="1328.72" width="10.02" height="6.68" fill="#fefdfb"/>
<text font-size="56" transform="translate(0 1400.1) scale(1 1.04) translate(0 -1400.1)"><tspan x="1973.9" y="1400.1">MV</tspan><tspan x="2061.3" y="1396.6" font-size="43.5" font-family="&quot;Noto Serif CJK SC&quot;,&quot;Noto Sans CJK SC&quot;,serif" stroke="none">（</tspan><tspan x="2110.5" y="1400.1">3</tspan><tspan x="2142.95" y="1401.7" font-size="35" font-family="&quot;Noto Serif CJK SC&quot;,&quot;Noto Sans CJK SC&quot;,serif" stroke="none" font-weight="900">：</tspan><tspan x="2197.86" y="1400.1">1</tspan><tspan x="2233.7" y="1396.6" font-size="43.5" font-family="&quot;Noto Serif CJK SC&quot;,&quot;Noto Sans CJK SC&quot;,serif" stroke="none">）</tspan></text>
<rect x="2201.22" y="1394.62" width="10.72" height="6.68" fill="#fefdfb"/><rect x="2216.96" y="1394.62" width="10.02" height="6.68" fill="#fefdfb"/>
<text font-size="56" transform="translate(1975.2 1466) scale(1 1.04)">bare AC</text>
</svg></body></html>
